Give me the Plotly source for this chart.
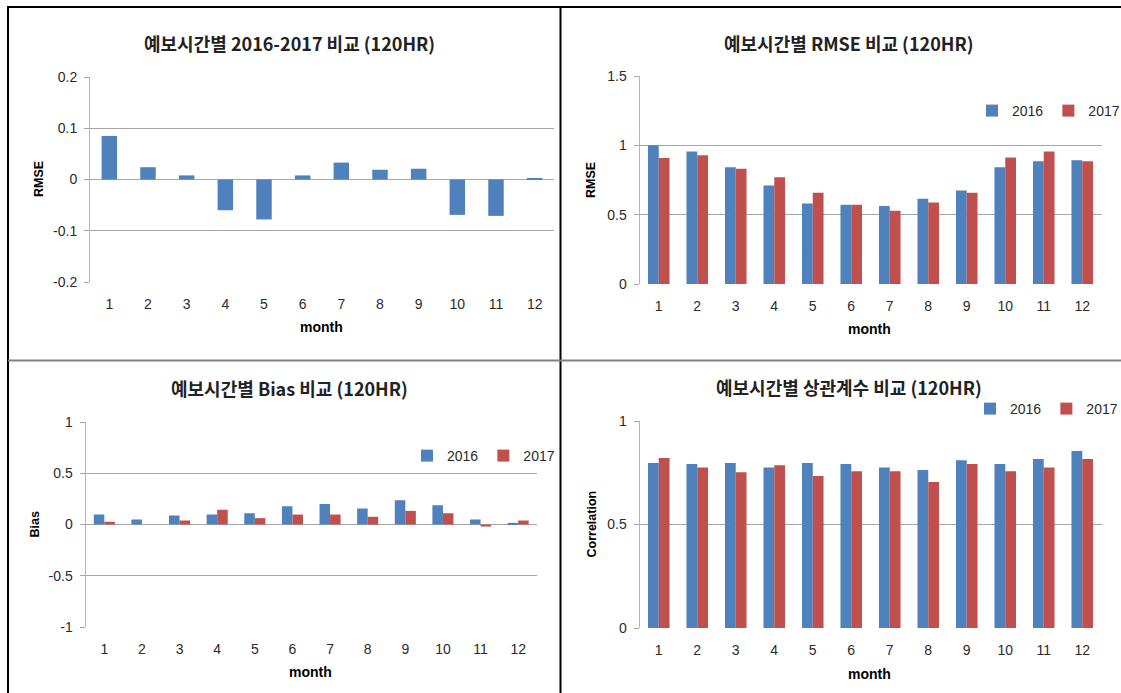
import plotly.graph_objects as go

W, H = 1121, 693

months = [str(m) for m in range(1, 13)]

diff_rmse = [0.085, 0.024, 0.008, -0.060, -0.078, 0.008, 0.033, 0.019, 0.021, -0.069, -0.071, 0.003]

rmse_2016 = [1.00, 0.955, 0.842, 0.711, 0.581, 0.571, 0.562, 0.615, 0.675, 0.842, 0.885, 0.892]
rmse_2017 = [0.909, 0.928, 0.832, 0.769, 0.658, 0.571, 0.528, 0.588, 0.658, 0.912, 0.955, 0.885]

bias_2016 = [0.097, 0.049, 0.088, 0.097, 0.110, 0.179, 0.201, 0.156, 0.237, 0.188, 0.049, 0.016]
bias_2017 = [0.026, 0.0, 0.039, 0.143, 0.062, 0.097, 0.097, 0.075, 0.133, 0.110, -0.020, 0.039]

corr_2016 = [0.797, 0.792, 0.797, 0.775, 0.797, 0.792, 0.775, 0.763, 0.810, 0.792, 0.816, 0.855]
corr_2017 = [0.821, 0.775, 0.752, 0.786, 0.734, 0.757, 0.757, 0.705, 0.792, 0.757, 0.775, 0.816]

titles = ["예보시간별 2016-2017 비교 (120HR)", "예보시간별 RMSE 비교 (120HR)",
          "예보시간별 Bias 비교 (120HR)", "예보시간별 상관계수 비교 (120HR)"]
ylabels = ["RMSE", "RMSE", "Bias", "Correlation"]
xlabel = "month"
series_names = ["2016", "2017"]

ticks1 = [-0.2, -0.1, 0, 0.1, 0.2]
ticks1_txt = ["-0.2", "-0.1", "0", "0.1", "0.2"]
ticks2 = [0, 0.5, 1, 1.5]
ticks2_txt = ["0", "0.5", "1", "1.5"]
ticks3 = [-1, -0.5, 0, 0.5, 1]
ticks3_txt = ["-1", "-0.5", "0", "0.5", "1"]
ticks4 = [0, 0.5, 1]
ticks4_txt = ["0", "0.5", "1"]

BLUE = "#4F81BD"
RED = "#C0504D"
GRID = "#A6A6A6"
LATIN = "Liberation Sans, Noto Sans CJK KR"
KFONT = "Noto Sans CJK KR"


def px_x(p):
    return p / W


def px_y(p):
    return 1 - p / H


# plot areas in pixels (left, right, top, bottom)
areas = [(90, 554, 77, 282), (639.5, 1101.5, 76, 284), (85.5, 537, 422, 627), (639.5, 1101.5, 421, 628)]

fig = go.Figure()

fig.add_trace(go.Bar(x=months, y=diff_rmse, marker_color=BLUE, width=0.40,
                     showlegend=False, xaxis="x", yaxis="y", marker_line_width=0))

for i, (a, b) in enumerate([(rmse_2016, rmse_2017), (bias_2016, bias_2017), (corr_2016, corr_2017)]):
    k = i + 2
    leg = "legend" if i == 0 else f"legend{i + 1}"
    fig.add_trace(go.Bar(x=months, y=a, name=series_names[0], marker_color=BLUE,
                         xaxis=f"x{k}", yaxis=f"y{k}", legend=leg, marker_line_width=0))
    fig.add_trace(go.Bar(x=months, y=b, name=series_names[1], marker_color=RED,
                         xaxis=f"x{k}", yaxis=f"y{k}", legend=leg, marker_line_width=0))

tick_sets = [(ticks1, ticks1_txt), (ticks2, ticks2_txt), (ticks3, ticks3_txt), (ticks4, ticks4_txt)]

layout = dict(
    width=W, height=H,
    margin=dict(l=0, r=0, t=0, b=0, autoexpand=False),
    paper_bgcolor="white", plot_bgcolor="white",
    barmode="group", bargap=0.44, bargroupgap=0,
    font=dict(family=LATIN, color="#000000", size=14),
)

for i, (l, r, t, b) in enumerate(areas):
    k = "" if i == 0 else str(i + 1)
    tv, tt = tick_sets[i]
    layout[f"xaxis{k}"] = dict(
        domain=[px_x(l), px_x(r)], anchor=f"y{k}", type="category",
        range=[-0.5, 11.5], showgrid=False, showline=False, zeroline=False,
        automargin=False,
        ticks="", ticklabelstandoff=12, tickfont=dict(size=14, family=LATIN, color="#2a2a2a"),
    )
    layout[f"yaxis{k}"] = dict(
        domain=[px_y(b), px_y(t)], anchor=f"x{k}",
        range=[tv[0], tv[-1]], tickvals=tv, ticktext=tt,
        showgrid=True, gridcolor=GRID, gridwidth=1, automargin=False,
        zeroline=False, showline=True, linecolor="#B4B4B4", linewidth=1,
        ticks="outside", ticklen=5, tickcolor=GRID, ticklabelstandoff=4,
        tickfont=dict(size=14, family=LATIN, color="#2a2a2a"),
    )

legend_common = dict(orientation="h", xanchor="left", yanchor="middle",
                     font=dict(size=14, family=LATIN, color="#2a2a2a"),
                     bgcolor="rgba(0,0,0,0)", itemwidth=30,
                     tracegroupgap=0, traceorder="normal")
layout["legend"] = dict(x=px_x(972), y=px_y(111), **legend_common)
layout["legend2"] = dict(x=px_x(407), y=px_y(456), **legend_common)
layout["legend3"] = dict(x=px_x(970), y=px_y(409), **legend_common)

annotations = []
title_pos = [(289, 43), (848.5, 43), (289, 388), (849, 387)]
ylab_pos = [38.5, 591, 34, 591]
xlab_pos = [(321, 327), (869, 329), (310, 672), (869, 674)]
for i in range(4):
    tx, ty = title_pos[i]
    annotations.append(dict(text=f"<b>{titles[i]}</b>", x=px_x(tx), y=px_y(ty), xref="paper", yref="paper",
                            showarrow=False, xanchor="center", yanchor="middle",
                            font=dict(size=18, family=KFONT, color="#222")))
    l, r, t, b = areas[i]
    annotations.append(dict(text=f"<b>{ylabels[i]}</b>", x=px_x(ylab_pos[i]), y=px_y((t + b) / 2),
                            xref="paper", yref="paper", showarrow=False, textangle=-90,
                            xanchor="center", yanchor="middle",
                            font=dict(size=12.5, family=LATIN, color="#000")))
    mx, my = xlab_pos[i]
    annotations.append(dict(text=f"<b>{xlabel}</b>", x=px_x(mx), y=px_y(my), xref="paper", yref="paper",
                            showarrow=False, xanchor="center", yanchor="middle",
                            font=dict(size=14, family=LATIN, color="#000")))
layout["annotations"] = annotations

shapes = [
    dict(type="line", xref="paper", yref="paper", x0=px_x(7), x1=1, y0=px_y(7), y1=px_y(7),
         line=dict(color="#000", width=2)),
    dict(type="line", xref="paper", yref="paper", x0=px_x(8), x1=px_x(8), y0=px_y(7), y1=0,
         line=dict(color="#000", width=2)),
    dict(type="line", xref="paper", yref="paper", x0=px_x(560.5), x1=px_x(560.5), y0=px_y(7), y1=0,
         line=dict(color="#000", width=2)),
    dict(type="line", xref="paper", yref="paper", x0=px_x(8), x1=1, y0=px_y(360.5), y1=px_y(360.5),
         line=dict(color="#808080", width=2)),
]
layout["shapes"] = shapes

fig.update_layout(**layout)
fig.write_html("out.html", config={"displayModeBar": False},
               post_script="document.body.style.margin='0';document.body.style.overflow='hidden';")
